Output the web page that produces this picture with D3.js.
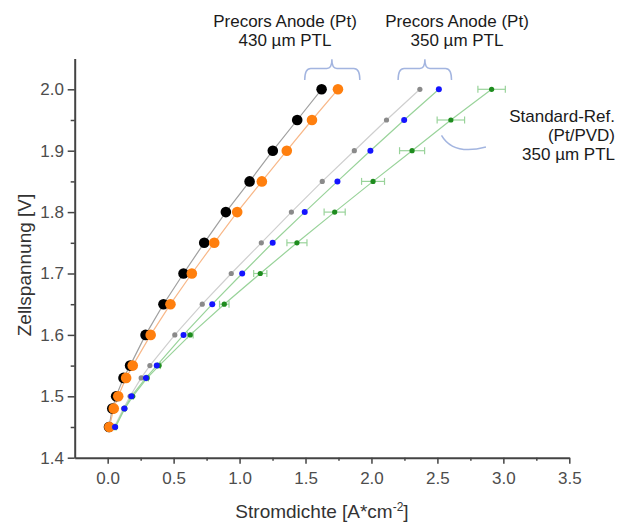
<!DOCTYPE html>
<html>
<head>
<meta charset="utf-8">
<script src="https://cdn.jsdelivr.net/npm/d3@7"></script>
<style>
    body { margin: 0; background: #fff; }
    text { font-family: "Liberation Sans", Arial, sans-serif; }
</style>
</head>
<body>
<div id="chart"></div>
<script>
// Cell voltage levels [V]
var voltage = [1.45, 1.48, 1.50, 1.53, 1.55, 1.60, 1.65, 1.70, 1.75, 1.80, 1.85, 1.90, 1.95, 2.00];

// Current density [A*cm^-2] per series
var precors430a = [0.010, 0.035, 0.064, 0.120, 0.170, 0.287, 0.423, 0.575, 0.732, 0.896, 1.076, 1.252, 1.437, 1.622];
var precors430b = [0.013, 0.046, 0.080, 0.140, 0.190, 0.326, 0.476, 0.638, 0.808, 0.982, 1.169, 1.358, 1.549, 1.746];
var precors350a = [0.050, 0.120, 0.170, 0.254, 0.320, 0.509, 0.717, 0.937, 1.165, 1.393, 1.627, 1.870, 2.114, 2.367];
var precors350b = [0.056, 0.127, 0.180, 0.290, 0.372, 0.575, 0.793, 1.020, 1.251, 1.494, 1.742, 1.992, 2.248, 2.511];
var standardRef = [0.060, 0.130, 0.190, 0.300, 0.390, 0.626, 0.884, 1.157, 1.435, 1.721, 2.012, 2.308, 2.602, 2.911];
var standardErr = [0.005, 0.005, 0.005, 0.008, 0.010, 0.022, 0.036, 0.050, 0.076, 0.080, 0.087, 0.095, 0.104, 0.104];

var xTicks = [0, 0.5, 1.0, 1.5, 2.0, 2.5, 3.0, 3.5];
var yTicks = [1.4, 1.5, 1.6, 1.7, 1.8, 1.9, 2.0];

var width = 618, height = 523;

var svg = d3.select("#chart").append("svg")
    .attr("width", width)
    .attr("height", height);

var x = d3.scaleLinear().domain([-0.25, 3.5]).range([74.7, 569.3]);
var y = d3.scaleLinear().domain([1.4, 2.05]).range([457.7, 58.6]);

// series styles: dot colour, dot radius, line colour
var series = [
    {values: precors430a, fill: "#000000", r: 5.3, line: "#a0a0a0"},
    {values: precors430b, fill: "#ff7f0e", r: 5.3, line: "#f8b889"},
    {values: precors350a, fill: "#8a8a8a", r: 2.6, line: "#cfcfcf"},
    {values: standardRef, fill: "#1e8c1e", r: 2.6, line: "#99d39a", err: standardErr},
    {values: precors350b, fill: "#1414ff", r: 3,   line: "#99d39a"}
];

// axes
var axisColor = "#444";
var xAxis = svg.append("g")
    .attr("transform", "translate(0," + y(1.4) + ")")
    .call(d3.axisBottom(x).tickValues(xTicks).tickSize(6).tickSizeOuter(0).tickFormat(d3.format(".1f")));
svg.append("g")
    .attr("transform", "translate(0," + y(1.4) + ")")
    .call(d3.axisBottom(x).tickValues(d3.range(0.25, 3.5, 0.5)).tickSize(3).tickFormat(""))
    .select(".domain").remove();
var yAxis = svg.append("g")
    .attr("transform", "translate(" + x(-0.25) + ",0)")
    .call(d3.axisLeft(y).tickValues(yTicks).tickSize(7).tickSizeOuter(0).tickFormat(d3.format(".1f")));
svg.append("g")
    .attr("transform", "translate(" + x(-0.25) + ",0)")
    .call(d3.axisLeft(y).tickValues(d3.range(1.45, 2.0, 0.1)).tickSize(4).tickFormat(""))
    .select(".domain").remove();

svg.selectAll(".domain")
    .attr("stroke", axisColor)
    .attr("stroke-width", 2);
svg.selectAll(".tick line").attr("stroke", axisColor).attr("stroke-width", 1.5);
svg.selectAll(".tick text")
    .attr("fill", "#4d4d4d")
    .style("font-size", "17px")
    .style("font-family", "Liberation Sans, Arial, sans-serif");
xAxis.selectAll(".tick text").attr("dy", "1.0em");
yAxis.selectAll(".tick text").attr("dx", "-0.05em");

// axis titles
var xTitle = svg.append("text")
    .attr("x", 322).attr("y", 518)
    .attr("text-anchor", "middle")
    .style("font-size", "19px")
    .attr("fill", "#333");
xTitle.append("tspan").text("Stromdichte [A*cm");
xTitle.append("tspan").attr("dy", -7).style("font-size", "12px").text("-2");
xTitle.append("tspan").attr("dy", 7).text("]");

svg.append("text")
    .attr("transform", "translate(31,265) rotate(-90)")
    .attr("text-anchor", "middle")
    .style("font-size", "19px")
    .attr("fill", "#333")
    .text("Zellspannung [V]");

// lines, error bars and dots
var line = d3.line()
    .x(function(d) { return x(d[0]); })
    .y(function(d) { return y(d[1]); });

series.forEach(function(s) {
    var pts = s.values.map(function(v, i) { return [v, voltage[i]]; });
    svg.append("path")
        .datum(pts)
        .attr("d", line)
        .attr("fill", "none")
        .attr("stroke", s.line)
        .attr("stroke-width", 1.2);
});

series.forEach(function(s) {
    var g = svg.append("g");
    if (s.err) {
        s.values.forEach(function(v, i) {
            var e = s.err[i], yy = y(voltage[i]);
            g.append("line")
                .attr("x1", x(v - e)).attr("x2", x(v + e))
                .attr("y1", yy).attr("y2", yy)
                .attr("stroke", s.line).attr("stroke-width", 1.2);
            [v - e, v + e].forEach(function(c) {
                g.append("line")
                    .attr("x1", x(c)).attr("x2", x(c))
                    .attr("y1", yy - 3.5).attr("y2", yy + 3.5)
                    .attr("stroke", s.line).attr("stroke-width", 1.2);
            });
        });
    }
    g.selectAll("circle")
        .data(s.values)
        .enter()
        .append("circle")
            .attr("cx", function(d) { return x(d); })
            .attr("cy", function(d, i) { return y(voltage[i]); })
            .attr("r", s.r)
            .attr("fill", s.fill);
});

// brackets (data coordinates)
var braceColor = "#a3b5e0";
function brace(x0, x1, xm) {
    var yb = y(2.015), yt = y(2.034), yp = y(2.049);
    var a = x(x0), b = x(x1), m = x(xm);
    return "M" + a + "," + yb + " Q" + a + "," + yt + " " + (a + 6) + "," + yt +
        " L" + (m - 5) + "," + yt + " Q" + m + "," + yt + " " + m + "," + yp +
        " Q" + m + "," + yt + " " + (m + 5) + "," + yt +
        " L" + (b - 6) + "," + yt + " Q" + b + "," + yt + " " + b + "," + yb;
}
svg.append("path").attr("d", brace(1.494, 1.912, 1.70))
    .attr("fill", "none").attr("stroke", braceColor).attr("stroke-width", 1.5);
svg.append("path").attr("d", brace(2.202, 2.607, 2.405))
    .attr("fill", "none").attr("stroke", braceColor).attr("stroke-width", 1.5);
svg.append("path")
    .attr("d", "M" + x(2.531) + "," + y(1.925) + " Q" + x(2.62) + "," + y(1.892) + " " + x(2.868) + "," + y(1.906))
    .attr("fill", "none").attr("stroke", braceColor).attr("stroke-width", 1.5);

// annotation texts
var labels = [
    {x: 285, y: 27, anchor: "middle", text: "Precors Anode (Pt)"},
    {x: 285, y: 46, anchor: "middle", text: "430 µm PTL"},
    {x: 457, y: 27, anchor: "middle", text: "Precors Anode (Pt)"},
    {x: 457, y: 46, anchor: "middle", text: "350 µm PTL"},
    {x: 615, y: 122, anchor: "end", text: "Standard-Ref."},
    {x: 615, y: 141, anchor: "end", text: "(Pt/PVD)"},
    {x: 615, y: 160, anchor: "end", text: "350 µm PTL"}
];
svg.selectAll(".label")
    .data(labels)
    .enter()
    .append("text")
        .attr("class", "label")
        .attr("x", function(d) { return d.x; })
        .attr("y", function(d) { return d.y; })
        .attr("text-anchor", function(d) { return d.anchor; })
        .style("font-size", "17px")
        .attr("fill", "#1a1a1a")
        .text(function(d) { return d.text; });
</script>
</body>
</html>
